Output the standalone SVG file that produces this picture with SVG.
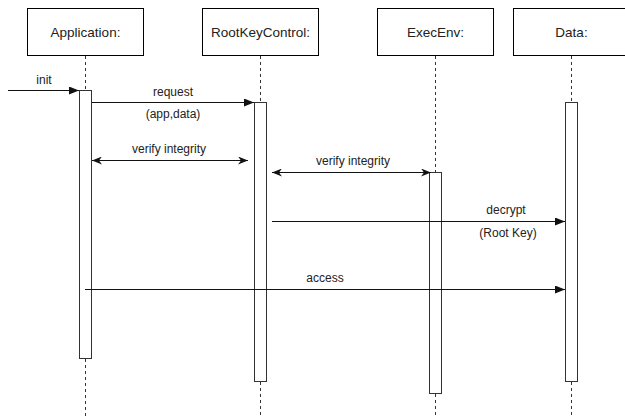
<svg xmlns="http://www.w3.org/2000/svg" width="625" height="416" viewBox="0 0 625 416">
  <style>
    .box { fill: #ffffff; stroke: #000000; stroke-width: 1; }
    .act { fill: #ffffff; stroke: #333333; stroke-width: 1; }
    .life { stroke: #333333; stroke-width: 1; stroke-dasharray: 3 3; fill: none; }
    .msg { stroke: #111111; stroke-width: 1; fill: none; }
    .title { font-family: "Liberation Sans", Arial, Helvetica, sans-serif; font-size: 13.5px; fill: #222222; text-anchor: middle; }
    .lbl { font-family: "Liberation Sans", Arial, Helvetica, sans-serif; font-size: 12px; fill: #222222; text-anchor: middle; }
  </style>
  <defs>
    <marker id="block" viewBox="0 0 10 8" refX="10" refY="4" markerWidth="10" markerHeight="8" markerUnits="userSpaceOnUse" orient="auto">
      <path d="M0,0 L10,4 L0,8 Z" fill="#111111"/>
    </marker>
    <marker id="classicEnd" viewBox="0 0 10 8" refX="10" refY="4" markerWidth="10" markerHeight="8" markerUnits="userSpaceOnUse" orient="auto">
      <path d="M0,0 L10,4 L0,8 L3,4 Z" fill="#111111"/>
    </marker>
    <marker id="classicStart" viewBox="0 0 10 8" refX="0" refY="4" markerWidth="10" markerHeight="8" markerUnits="userSpaceOnUse" orient="auto">
      <path d="M10,0 L0,4 L10,8 L7,4 Z" fill="#111111"/>
    </marker>
  </defs>

  <rect width="625" height="416" fill="#ffffff"/>

  <!-- Application lifeline -->
  <g id="application">
    <rect class="box" x="27.5" y="8.5" width="116" height="47"/>
    <text class="title" x="85.5" y="37">Application:</text>
    <line class="life" x1="85.5" y1="56" x2="85.5" y2="90"/>
    <line class="life" x1="85.5" y1="359" x2="85.5" y2="416"/>
    <rect class="act" x="79.5" y="90.5" width="12" height="268"/>
  </g>

  <!-- RootKeyControl lifeline -->
  <g id="rootkeycontrol">
    <rect class="box" x="202.5" y="8.5" width="116" height="47"/>
    <text class="title" x="260.5" y="37">RootKeyControl:</text>
    <line class="life" x1="260.5" y1="56" x2="260.5" y2="102"/>
    <line class="life" x1="260.5" y1="382" x2="260.5" y2="416"/>
    <rect class="act" x="254.5" y="102.5" width="12" height="279"/>
  </g>

  <!-- ExecEnv lifeline -->
  <g id="execenv">
    <rect class="box" x="377.5" y="8.5" width="116" height="47"/>
    <text class="title" x="435.5" y="37">ExecEnv:</text>
    <line class="life" x1="435.5" y1="56" x2="435.5" y2="172"/>
    <line class="life" x1="435.5" y1="394" x2="435.5" y2="416"/>
    <rect class="act" x="429.5" y="172.5" width="12" height="221"/>
  </g>

  <!-- Data lifeline -->
  <g id="data">
    <rect class="box" x="513.5" y="8.5" width="116" height="47"/>
    <text class="title" x="571.5" y="37">Data:</text>
    <line class="life" x1="571.5" y1="56" x2="571.5" y2="102"/>
    <line class="life" x1="571.5" y1="382" x2="571.5" y2="416"/>
    <rect class="act" x="565.5" y="102.5" width="12" height="279"/>
  </g>

  <!-- Messages -->
  <g id="connectors">
    <line class="msg" x1="8" y1="90.5" x2="79" y2="90.5" marker-end="url(#block)"/>
    <text class="lbl" x="44" y="84">init</text>

    <line class="msg" x1="92" y1="102.5" x2="254" y2="102.5" marker-end="url(#block)"/>
    <text class="lbl" x="173" y="96">request</text>
    <text class="lbl" x="173" y="118">(app,data)</text>

    <line class="msg" x1="92" y1="160.5" x2="248" y2="160.5" marker-start="url(#classicStart)" marker-end="url(#classicEnd)"/>
    <text class="lbl" x="169" y="153">verify integrity</text>

    <line class="msg" x1="272" y1="172.5" x2="431" y2="172.5" marker-start="url(#classicStart)" marker-end="url(#classicEnd)"/>
    <text class="lbl" x="353" y="165">verify integrity</text>

    <line class="msg" x1="272" y1="221.5" x2="565" y2="221.5" marker-end="url(#block)"/>
    <text class="lbl" x="506" y="214">decrypt</text>
    <text class="lbl" x="508" y="237">(Root Key)</text>

    <line class="msg" x1="85" y1="289.5" x2="565" y2="289.5" marker-end="url(#block)"/>
    <text class="lbl" x="325" y="282">access</text>
  </g>
</svg>
